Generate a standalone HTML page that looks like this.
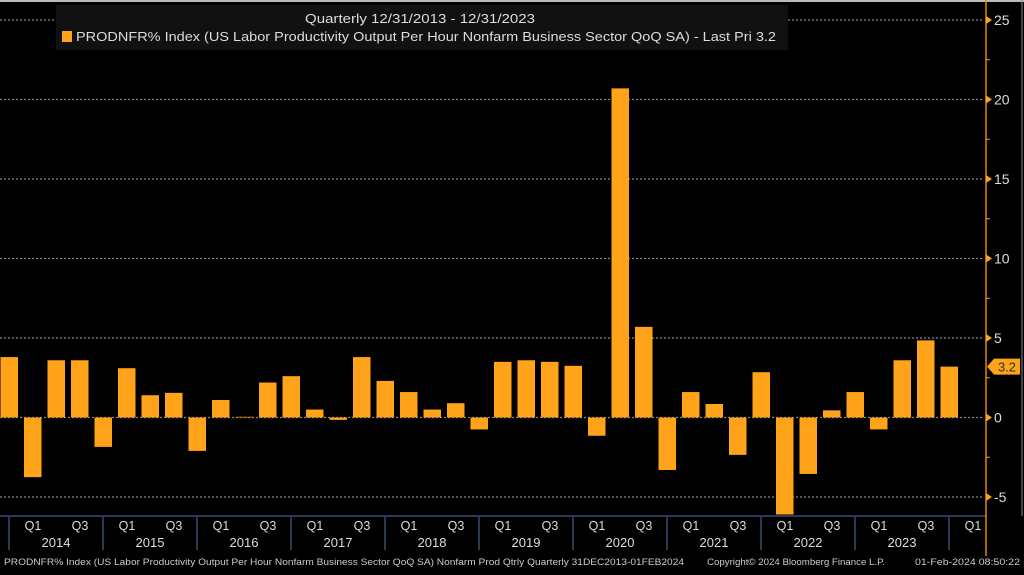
<!DOCTYPE html>
<html><head><meta charset="utf-8">
<style>
html,body{margin:0;padding:0;background:#000;}
body{width:1024px;height:570px;overflow:hidden;font-family:"Liberation Sans",sans-serif;}
svg text{font-family:"Liberation Sans",sans-serif;}
</style></head>
<body>
<svg id="chart" width="1024" height="570" xmlns="http://www.w3.org/2000/svg">
<rect x="0" y="0" width="1024" height="570" fill="#000"/>
<line x1="0" y1="1" x2="1024" y2="1" stroke="#bbb" stroke-width="2"/>
<line x1="1022" y1="0" x2="1022" y2="516" stroke="#888" stroke-width="1"/>
<g id="grid"></g>
<g id="bars"></g>
<rect x="0" y="516" width="986" height="34" fill="#000"/>
<line x1="0" y1="516" x2="986" y2="516" stroke="#2a3a55" stroke-width="2"/>
<g id="xaxis"></g>
<line x1="986" y1="0" x2="986" y2="556" stroke="#e08a00" stroke-width="1.5"/>
<g id="yaxis"></g>
<g>
<rect x="56" y="5" width="732" height="45" fill="#111"/>
<text x="420" y="23" fill="#ddd" font-size="13" text-anchor="middle" textLength="230" lengthAdjust="spacingAndGlyphs">Quarterly 12/31/2013 - 12/31/2023</text>
<rect x="62" y="31" width="10" height="11" fill="#ffa31a"/>
<text x="76" y="41" fill="#ddd" font-size="13" textLength="700" lengthAdjust="spacingAndGlyphs">PRODNFR% Index (US Labor Productivity Output Per Hour Nonfarm Business Sector QoQ SA) - Last Pri 3.2</text>
</g>
<text x="4" y="565" fill="#ccc" font-size="9.5" textLength="680" lengthAdjust="spacingAndGlyphs">PRODNFR% Index (US Labor Productivity Output Per Hour Nonfarm Business Sector QoQ SA) Nonfarm Prod Qtrly  Quarterly 31DEC2013-01FEB2024</text>
<text x="707" y="565" fill="#ccc" font-size="9.5" textLength="178" lengthAdjust="spacingAndGlyphs">Copyright© 2024 Bloomberg Finance L.P.</text>
<text x="915" y="565" fill="#ccc" font-size="9.5" textLength="105" lengthAdjust="spacingAndGlyphs">01-Feb-2024 08:50:22</text>
</svg>
<script>
const values=[3.8,-3.75,3.6,3.6,-1.85,3.1,1.4,1.55,-2.1,1.1,0.05,2.2,2.6,0.5,-0.15,3.8,2.3,1.6,0.5,0.9,-0.75,3.5,3.6,3.5,3.25,-1.15,20.7,5.7,-3.3,1.6,0.85,-2.35,2.85,-6.1,-3.55,0.45,1.6,-0.75,3.6,4.85,3.2];
const yTicks=[25,20,15,10,5,0,-5];
const years=["2014","2015","2016","2017","2018","2019","2020","2021","2022","2023"];
const lastValue=3.2;
const NS="http://www.w3.org/2000/svg";
const Y0=417.5,K=15.9;
function y(v){return Y0-v*K;}
function x(i){return 0.5+23.5*i;}
function mk(tag,attrs,parent){const e=document.createElementNS(NS,tag);for(const k in attrs)e.setAttribute(k,attrs[k]);parent.appendChild(e);return e;}
const grid=document.getElementById('grid'),bars=document.getElementById('bars'),xa=document.getElementById('xaxis'),ya=document.getElementById('yaxis');
yTicks.forEach(t=>{
 const g=mk('line',{x1:0,x2:984,y1:y(t),y2:y(t),stroke:'#888','stroke-width':1.2,'stroke-dasharray':'2 2'},grid);
 
 
 const tk=mk('path',{d:`M986 ${y(t)-4} L992 ${y(t)} L986 ${y(t)+4}Z`,fill:'#ffa31a'},ya);
 
 
 const tx=mk('text',{x:994,y:y(t)+5,fill:'#ddd','font-size':14},ya);
 tx.textContent=t;
 
 
});
for(let t=-2.5;t<=22.5;t+=5){const m=mk('line',{x1:986,x2:990,y1:y(t),y2:y(t),stroke:'#ffa31a','stroke-width':1},ya);
 
 }
values.forEach((v,i)=>{
 const top=Math.min(y(v),y(0)),h=Math.max(Math.abs(y(v)-y(0)),1);
 const r=mk('rect',{x:x(i),y:top,width:17.5,height:h,fill:Math.abs(v)<0.1?'#b86f00':'#ffa31a'},bars);
 
 
});
years.forEach((yr,k)=>{
 const b=9+94*k;
 const s=mk('line',{x1:b,x2:b,y1:517,y2:550,stroke:'#2a3a55','stroke-width':2},xa);
 
 
 [['Q1',33],['Q3',80]].forEach(([q,o])=>{const t=mk('text',{x:o+94*k,y:530,fill:'#ddd','font-size':12.5,'text-anchor':'middle'},xa);t.textContent=q;
  
  });
 const t=mk('text',{x:56+94*k,y:547,fill:'#ddd','font-size':13,'text-anchor':'middle'},xa);t.textContent=yr;
 
 
});
const s2=mk('line',{x1:949,x2:949,y1:517,y2:550,stroke:'#2a3a55','stroke-width':2},xa);


const q=mk('text',{x:973,y:530,fill:'#ddd','font-size':12.5,'text-anchor':'middle'},xa);q.textContent='Q1';


const ly=y(lastValue);
const tag=mk('path',{d:`M987 ${ly} L994 ${ly-8} L1020 ${ly-8} L1020 ${ly+8} L994 ${ly+8}Z`,fill:'#ffa31a'},ya);


const lt=mk('text',{x:1007,y:ly+5,fill:'#333','font-size':13,'text-anchor':'middle'},ya);lt.textContent=lastValue;


</script>
</body></html>
